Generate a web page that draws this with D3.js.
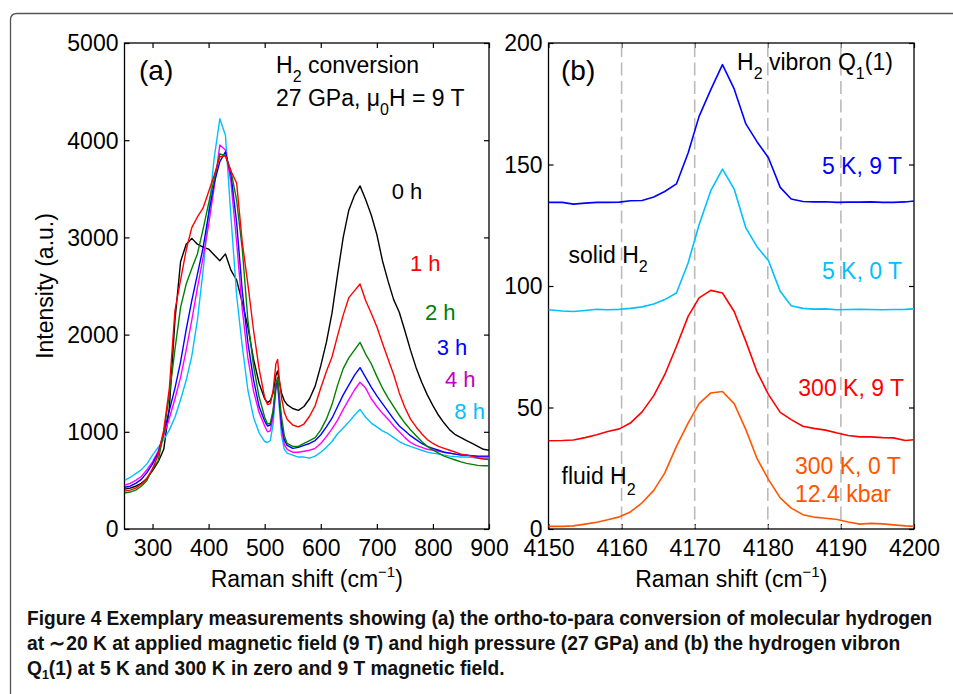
<!DOCTYPE html>
<html>
<head>
<meta charset="utf-8">
<script src="https://cdn.jsdelivr.net/npm/d3@7"></script>
<style>
  html, body { margin: 0; padding: 0; background: #fff; }
  svg { display: block; }
  text { font-family: "Liberation Sans", Arial, Helvetica, sans-serif; }
</style>
</head>
<body>
<div id="chart"></div>
<script>
// ---------- Panel (a): ortho-to-para conversion spectra ----------
const ramanA = [250,260,270,280,290,300,310,320,330,340,350,360,370,380,390,400,410,420,430,440,450,460,470,480,490,500,505,510,515,520,523,526,530,535,540,550,560,570,580,590,600,610,620,630,640,650,660,670,680,690,700,710,720,730,740,750,760,770,780,790,800,810,820,830,840,850,860,870,880,890,900];

const int0h = [410,420,440,470,520,600,690,820,1250,2150,2750,2930,2990,2930,2900,2880,2820,2760,2830,2660,2560,2330,2080,1750,1500,1340,1300,1320,1400,1580,1625,1520,1400,1320,1280,1240,1220,1260,1340,1470,1680,1920,2220,2620,3000,3280,3430,3530,3390,3230,3030,2760,2550,2360,2230,2040,1840,1660,1510,1380,1270,1170,1090,1020,970,940,910,880,850,820,810];
const int1h = [390,400,420,460,520,620,760,1020,1450,2250,2560,2870,3100,3210,3300,3470,3640,3830,3840,3680,3560,2950,2520,2050,1650,1350,1280,1290,1420,1700,1745,1550,1350,1200,1130,1070,1050,1080,1160,1270,1450,1620,1770,1990,2200,2380,2450,2520,2350,2220,2080,1910,1750,1590,1400,1250,1130,1050,980,920,880,850,830,810,790,770,760,750,730,720,715];
const int2h = [370,380,400,440,500,620,700,990,1380,1850,2280,2520,2680,2830,3080,3350,3600,3860,3840,3680,3380,2880,2150,1680,1360,1150,1080,1090,1220,1500,1560,1380,1150,960,880,850,850,880,910,940,1020,1130,1280,1480,1650,1760,1840,1920,1800,1700,1570,1450,1350,1260,1170,1090,1020,960,900,850,815,780,750,730,710,690,675,665,655,650,650];
const int3h = [430,440,470,510,580,670,780,990,1220,1450,1720,2050,2350,2620,2890,3240,3560,3780,3880,3640,3150,2450,1920,1540,1260,1110,1060,1070,1200,1480,1530,1340,1080,920,860,830,840,860,880,910,970,1050,1140,1260,1380,1480,1580,1660,1560,1460,1370,1290,1210,1130,1060,1010,960,920,880,850,830,810,790,780,770,760,760,755,750,750,750];
const int4h = [450,470,500,540,610,690,800,960,1140,1340,1560,1840,2150,2480,2790,3130,3520,3950,3900,3560,2950,2260,1760,1420,1200,1060,1000,1010,1150,1450,1500,1300,1030,870,820,790,790,800,810,830,880,950,1030,1120,1230,1330,1430,1510,1450,1340,1260,1190,1130,1060,1000,940,890,860,840,820,810,800,790,780,770,765,760,750,745,740,740];
const int8h = [500,530,570,610,670,760,840,920,1020,1150,1330,1530,1780,2150,2650,3250,3820,4220,4050,3200,2400,1880,1430,1150,990,900,890,910,1080,1440,1510,1250,960,820,780,760,740,740,730,750,790,840,900,980,1040,1100,1170,1230,1150,1090,1050,1010,980,940,900,870,850,830,810,790,780,770,760,750,745,740,740,735,730,725,720];

const seriesA = [
  {name: "0 h", values: int0h, color: "#000000"},
  {name: "8 h", values: int8h, color: "#00c0ff"},
  {name: "4 h", values: int4h, color: "#ff00ff"},
  {name: "3 h", values: int3h, color: "#0000ff"},
  {name: "2 h", values: int2h, color: "#008000"},
  {name: "1 h", values: int1h, color: "#ff0000"}
];
const labelsA = ["0 h", "1 h", "2 h", "3 h", "4 h", "8 h"];
const labelColorsA = ["#000000", "#ff0000", "#008000", "#0000ff", "#c000c0", "#00c0ff"];

const ticksAX = [300,400,500,600,700,800,900];
const ticksAY = [0,1000,2000,3000,4000,5000];

// ---------- Panel (b): H2 vibron Q1(1) ----------
const ramanB = [4150.0,4151.9,4153.4,4155.0,4156.6,4158.1,4159.7,4161.2,4162.8,4164.4,4165.9,4167.5,4169.1,4170.6,4172.2,4173.8,4175.4,4177.0,4178.5,4180.1,4181.7,4183.2,4184.8,4186.3,4187.9,4189.5,4191.0,4192.6,4194.1,4195.7,4197.2,4198.8,4200.0];
const vib5K9T   = [134.4,134.4,133.7,134.1,134.4,134.4,134.5,135.1,135.2,136.6,138.9,142.0,154.7,169.8,180.8,191.1,181.1,166.7,159.5,152.7,140.6,135.8,134.8,134.6,134.7,134.4,134.5,134.5,134.6,134.4,134.4,134.6,135.0];
const vib5K0T   = [90.2,89.7,89.5,89.9,90.4,90.2,90.4,90.8,91.4,92.6,94.4,97.1,109.5,125.2,139.2,148.1,139.9,123.9,116.3,110.4,97.8,91.9,90.8,90.5,90.6,90.2,90.3,90.4,90.3,90.2,90.3,90.4,90.6];
const vib300K9T = [36.3,36.4,36.6,37.6,38.8,40.1,41.2,43.6,48.2,54.9,63.5,75.1,87.5,95.1,98.2,97.1,89.5,77.2,64.9,55.3,48.0,45.0,42.3,41.4,40.7,39.5,38.5,37.9,37.9,37.6,37.5,36.4,36.7];
const vib300K0T = [1.1,1.1,1.3,2.0,2.8,3.8,5.0,7.0,10.8,15.9,23.0,34.0,43.6,51.6,56.0,56.6,51.6,40.9,29.2,20.3,12.8,8.6,5.9,4.9,4.4,3.9,2.9,2.0,2.3,2.1,1.7,1.3,1.1];

const seriesB = [
  {name: "5 K, 9 T", values: vib5K9T, color: "#0000ff"},
  {name: "5 K, 0 T", values: vib5K0T, color: "#00c0ff"},
  {name: "300 K, 9 T", values: vib300K9T, color: "#ff0000"},
  {name: "300 K, 0 T", values: vib300K0T, color: "#ff5500"}
];
const dashPositionsB = [4160, 4170, 4180, 4190];
const ticksBX = [4150,4160,4170,4180,4190,4200];
const ticksBY = [0,50,100,150,200];

const captionLines = [
  "Figure 4 Exemplary measurements showing (a) the ortho-to-para conversion of molecular hydrogen",
  "at \u223C20 K at applied magnetic field (9 T) and high pressure (27 GPa) and (b) the hydrogen vibron",
  "(1) at 5 K and 300 K in zero and 9 T magnetic field."
];

// ---------- Drawing ----------
const W = 953, H = 694;
const svg = d3.select("#chart").append("svg").attr("width", W).attr("height", H);

svg.append("path")
  .attr("d", "M 960 13.5 H 17 Q 10.5 13.5 10.5 20 V 700")
  .attr("fill", "none").attr("stroke", "#555").attr("stroke-width", 1.3);

const FS = 23;

function drawPanel(cfg) {
  const g = svg.append("g");
  const x = d3.scaleLinear().domain(cfg.xDomain).range([cfg.left, cfg.right]);
  const y = d3.scaleLinear().domain(cfg.yDomain).range([cfg.bottom, cfg.top]);
  const tl = 5;

  const bottom = g.append("g").attr("transform", `translate(0,${cfg.bottom})`)
    .call(d3.axisBottom(x).tickValues(cfg.xTicks).tickSize(-tl).tickPadding(11).tickFormat(d3.format("d")));
  const top = g.append("g").attr("transform", `translate(0,${cfg.top})`)
    .call(d3.axisTop(x).tickValues(cfg.xTicks).tickSize(-tl).tickFormat(""));
  const left = g.append("g").attr("transform", `translate(${cfg.left},0)`)
    .call(d3.axisLeft(y).tickValues(cfg.yTicks).tickSize(-tl).tickPadding(6).tickFormat(d3.format("d")));
  const right = g.append("g").attr("transform", `translate(${cfg.right},0)`)
    .call(d3.axisRight(y).tickValues(cfg.yTicks).tickSize(-tl).tickFormat(""));
  [bottom, top, left, right].forEach(a => {
    a.select(".domain").remove();
    a.selectAll("line").attr("stroke", "#000").attr("stroke-width", 1.2);
    a.selectAll("text").attr("font-size", FS).attr("fill", "#000")
      .style("font-family", '"Liberation Sans", Arial, sans-serif');
  });
  bottom.selectAll("text").attr("dy", "0.71em");
  left.selectAll("text").attr("dy", "0.34em");

  g.append("rect").attr("x", cfg.left).attr("y", cfg.top)
    .attr("width", cfg.right - cfg.left).attr("height", cfg.bottom - cfg.top)
    .attr("fill", "none").attr("stroke", "#000").attr("stroke-width", 1.3);

  const xl = g.append("text").attr("x", (cfg.left + cfg.right) / 2).attr("y", 587)
    .attr("text-anchor", "middle").attr("font-size", FS);
  xl.append("tspan").text("Raman shift (cm");
  xl.append("tspan").attr("dy", -10).attr("font-size", 15).text("\u22121");
  xl.append("tspan").attr("dy", 10).text(")");
  return {g, x, y};
}

// ---- Panel (a)
const pa = drawPanel({left: 124.5, right: 489, top: 43, bottom: 529,
  xDomain: [250, 900], yDomain: [0, 5000], xTicks: ticksAX, yTicks: ticksAY});

svg.append("text").attr("transform", "translate(53,286) rotate(-90)")
  .attr("text-anchor", "middle").attr("font-size", FS).text("Intensity (a.u.)");

svg.append("clipPath").attr("id", "clipA").append("rect")
  .attr("x", 124.5).attr("y", 43).attr("width", 364.5).attr("height", 486);
const lineA = vals => d3.line().x((d, i) => pa.x(ramanA[i])).y(d => pa.y(d))(vals);
pa.g.append("g").attr("clip-path", "url(#clipA)").selectAll("path").data(seriesA).join("path")
  .attr("d", s => lineA(s.values)).attr("fill", "none")
  .attr("stroke", s => s.color).attr("stroke-width", 1.4).attr("stroke-linejoin", "round");

svg.append("text").attr("x", 139).attr("y", 80).attr("font-size", 28).text("(a)");
const t1 = svg.append("text").attr("x", 276).attr("y", 73).attr("font-size", FS);
t1.append("tspan").text("H");
t1.append("tspan").attr("dy", 9).attr("font-size", 16).text("2");
t1.append("tspan").attr("dy", -9).text(" conversion");
const t2 = svg.append("text").attr("x", 276).attr("y", 106).attr("font-size", FS);
t2.append("tspan").text("27 GPa, \u03BC");
t2.append("tspan").attr("dy", 9).attr("font-size", 16).text("0");
t2.append("tspan").attr("dy", -9).text("H = 9 T");

const labelPosA = [[391.7,198.5],[410,271],[425,319.5],[436.7,355],[445,387.3],[454.3,419]];
svg.selectAll("text.lblA").data(labelsA).join("text").attr("class", "lblA")
  .attr("x", (d, i) => labelPosA[i][0]).attr("y", (d, i) => labelPosA[i][1])
  .attr("font-size", 22).attr("fill", (d, i) => labelColorsA[i]).text(d => d);

// ---- Panel (b)
const pb = drawPanel({left: 548.5, right: 914, top: 43, bottom: 529,
  xDomain: [4150, 4200], yDomain: [0, 200], xTicks: ticksBX, yTicks: ticksBY});

pb.g.selectAll("line.dash").data(dashPositionsB).join("line").attr("class", "dash")
  .attr("x1", d => pb.x(d)).attr("x2", d => pb.x(d)).attr("y1", 44).attr("y2", 528)
  .attr("stroke", "#bbbbbb").attr("stroke-width", 1.6).attr("stroke-dasharray", "13,5.5");

const lineB = vals => d3.line().x((d, i) => pb.x(ramanB[i])).y(d => pb.y(d))(vals);
pb.g.append("g").selectAll("path").data(seriesB).join("path")
  .attr("d", s => lineB(s.values)).attr("fill", "none")
  .attr("stroke", s => s.color).attr("stroke-width", 1.6).attr("stroke-linejoin", "round");

svg.append("text").attr("x", 561).attr("y", 80).attr("font-size", 28).text("(b)");
const t3 = svg.append("text").attr("x", 737).attr("y", 70).attr("font-size", FS);
t3.append("tspan").text("H");
t3.append("tspan").attr("dy", 9).attr("font-size", 16).text("2");
t3.append("tspan").attr("dy", -9).text(" vibron Q");
t3.append("tspan").attr("dy", 9).attr("font-size", 16).text("1");
t3.append("tspan").attr("dy", -9).text("(1)");

const t4 = svg.append("text").attr("x", 568.5).attr("y", 262.5).attr("font-size", FS);
t4.append("tspan").text("solid H");
t4.append("tspan").attr("dy", 9.5).attr("font-size", 16).text("2");
const t5 = svg.append("text").attr("x", 561.5).attr("y", 483.5).attr("font-size", FS);
t5.append("tspan").text("fluid H");
t5.append("tspan").attr("dy", 11).attr("font-size", 16).text("2");

const labelsB = [
  {t: "5 K, 9 T", x: 902, y: 173.5, a: "end", c: "#0000ff"},
  {t: "5 K, 0 T", x: 902, y: 279, a: "end", c: "#00c0ff"},
  {t: "300 K, 9 T", x: 904, y: 396, a: "end", c: "#ff0000"},
  {t: "300 K, 0 T", x: 795, y: 474, a: "start", c: "#ff5500"},
  {t: "12.4 kbar", x: 795, y: 502, a: "start", c: "#ff5500"}
];
svg.selectAll("text.lblB").data(labelsB).join("text").attr("class", "lblB")
  .attr("x", d => d.x).attr("y", d => d.y).attr("text-anchor", d => d.a)
  .attr("font-size", FS).attr("fill", d => d.c).text(d => d.t);

// ---- Caption (condensed by horizontal scaling to the reference line widths)
const capFont = '"Liberation Sans Narrow", "Liberation Sans", Arial, sans-serif';
const capY = [625, 650, 674.5];
const capLen = [906, 874, 478];
captionLines.forEach((line, i) => {
  const g = svg.append("g");
  const t = g.append("text").attr("x", 0).attr("y", 0)
    .attr("font-size", 20).attr("font-weight", "bold").style("font-family", capFont)
    .attr("fill", "#111");
  if (i === 2) {
    t.append("tspan").text("Q");
    t.append("tspan").attr("dy", 4).attr("font-size", 13).text("1");
    t.append("tspan").attr("dy", -4).text(line);
  } else {
    t.text(line);
  }
  const w = t.node().getComputedTextLength();
  const s = capLen[i] / w;
  g.attr("transform", `translate(27,${capY[i]}) scale(${s},1)`);
});
</script>
</body>
</html>
